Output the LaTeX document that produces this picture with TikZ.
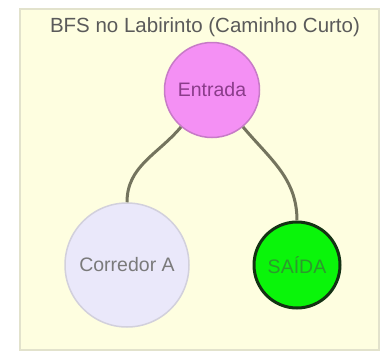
\documentclass[tikz,border=0pt]{standalone}
\usepackage{fontspec}
\setmainfont{Liberation Sans}
\usetikzlibrary{positioning}
\definecolor{PanelFill}{HTML}{FEFEE0}
\definecolor{PanelEdge}{HTML}{E2E2CC}
\definecolor{TitleInk}{HTML}{5A5A5A}
\definecolor{EntFill}{HTML}{F490F4}
\definecolor{EntEdge}{HTML}{C77BC7}
\definecolor{EntInk}{HTML}{8A3C8A}
\definecolor{CorFill}{HTML}{EAE8FA}
\definecolor{CorEdge}{HTML}{D2D0DC}
\definecolor{CorInk}{HTML}{7A7A7A}
\definecolor{ExitFill}{HTML}{0AF50A}
\definecolor{ExitEdge}{HTML}{143214}
\definecolor{ExitInk}{HTML}{2C9A2C}
\definecolor{Path}{HTML}{74745E}

\tikzset{
  room/.style={circle, inner sep=0pt, font=\fontsize{19.5}{22}\selectfont},
  link/.style={Path, line width=3pt}
}

\begin{document}
\begin{tikzpicture}[x=1pt, y=-1pt]
  \useasboundingbox (0,0) rectangle (380,359);
  % panel
  \draw[PanelEdge, fill=PanelFill, line width=2pt] (20,9) rectangle (379,350);
  \node[TitleInk, font=\fontsize{20.5}{23}\selectfont] (title) at (205,27)
    {BFS no Labirinto (Caminho Curto)};
  % rooms
  \node[room, minimum size=95pt, fill=EntFill, draw=EntEdge, line width=1.5pt,
    text=EntInk] (entrada) at (212,90) {Entrada};
  \node[room, minimum size=124pt, fill=CorFill, draw=CorEdge, line width=1.5pt,
    text=CorInk] (corredor) at (127,265) {Corredor A};
  \node[room, minimum size=86pt, fill=ExitFill, draw=ExitEdge, line width=3pt,
    text=ExitInk] (saida) at (297,265) {SAÍDA};
  % paths
  \draw[link] (entrada) to[out=230, in=90] (corredor);
  \draw[link] (entrada) to[out=-50, in=90] (saida);
\end{tikzpicture}
\end{document}
